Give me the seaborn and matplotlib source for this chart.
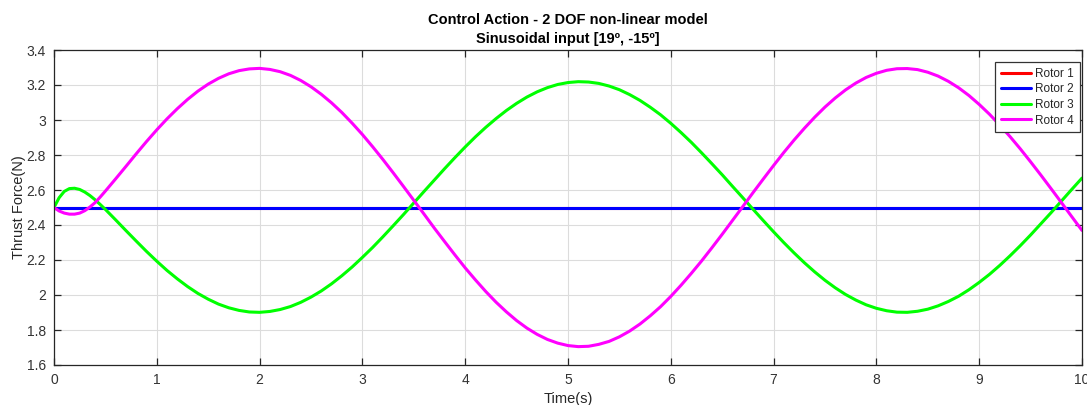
import numpy as np
import pandas as pd
import matplotlib
matplotlib.use("Agg")
import matplotlib.pyplot as plt
import seaborn as sns

time_s = [0, 0.05, 0.1, 0.15, 0.2, 0.25, 0.3, 0.35, 0.4, 0.45,
          0.5, 0.6, 0.7, 0.8, 0.9, 1, 1.1, 1.2, 1.3, 1.4, 1.5, 1.6, 1.7, 1.8, 1.9,
          2, 2.1, 2.2, 2.3, 2.4, 2.5, 2.6, 2.7, 2.8, 2.9, 3, 3.1, 3.2, 3.3, 3.4,
          3.5, 3.6, 3.7, 3.8, 3.9, 4, 4.1, 4.2, 4.3, 4.4, 4.5, 4.6, 4.7, 4.8, 4.9,
          5, 5.1, 5.2, 5.3, 5.4, 5.5, 5.6, 5.7, 5.8, 5.9, 6, 6.1, 6.2, 6.3, 6.4,
          6.5, 6.6, 6.7, 6.8, 6.9, 7, 7.1, 7.2, 7.3, 7.4, 7.5, 7.6, 7.7, 7.8, 7.9,
          8, 8.1, 8.2, 8.3, 8.4, 8.5, 8.6, 8.7, 8.8, 8.9, 9, 9.1, 9.2, 9.3, 9.4,
          9.5, 9.6, 9.7, 9.8, 9.9, 10]
rotor1 = [2.5] * len(time_s)
rotor2 = [2.5] * len(time_s)
rotor3 = [2.500, 2.556, 2.592, 2.608, 2.610, 2.603, 2.588, 2.568, 2.544, 2.517,
          2.489, 2.429, 2.368, 2.308, 2.249, 2.193, 2.140, 2.092, 2.048, 2.009,
          1.976, 1.948, 1.927, 1.912, 1.903, 1.901, 1.906, 1.917, 1.934, 1.958,
          1.988, 2.023, 2.064, 2.110, 2.160, 2.215, 2.272, 2.333, 2.396, 2.460,
          2.526, 2.592, 2.657, 2.722, 2.785, 2.846, 2.904, 2.958, 3.008, 3.054,
          3.095, 3.131, 3.161, 3.185, 3.203, 3.214, 3.219, 3.217, 3.209, 3.194,
          3.173, 3.145, 3.112, 3.073, 3.030, 2.981, 2.928, 2.872, 2.812, 2.750,
          2.687, 2.621, 2.556, 2.490, 2.425, 2.361, 2.299, 2.240, 2.184, 2.132,
          2.084, 2.041, 2.003, 1.971, 1.944, 1.924, 1.910, 1.902, 1.901, 1.907,
          1.919, 1.938, 1.963, 1.993, 2.030, 2.072, 2.118, 2.169, 2.224, 2.282,
          2.343, 2.407, 2.471, 2.537, 2.603, 2.668]
rotor4 = [2.500, 2.480, 2.468, 2.462, 2.462, 2.468, 2.482, 2.503, 2.528, 2.560,
          2.594, 2.664, 2.735, 2.807, 2.877, 2.944, 3.007, 3.065, 3.118, 3.165,
          3.205, 3.238, 3.264, 3.282, 3.292, 3.295, 3.289, 3.276, 3.255, 3.226,
          3.190, 3.147, 3.098, 3.043, 2.982, 2.917, 2.847, 2.774, 2.698, 2.620,
          2.541, 2.462, 2.382, 2.305, 2.229, 2.155, 2.086, 2.020, 1.959, 1.904,
          1.854, 1.811, 1.775, 1.746, 1.725, 1.711, 1.705, 1.707, 1.718, 1.735,
          1.761, 1.794, 1.834, 1.881, 1.933, 1.992, 2.056, 2.124, 2.195, 2.270,
          2.347, 2.426, 2.505, 2.585, 2.663, 2.740, 2.815, 2.886, 2.953, 3.016,
          3.074, 3.126, 3.172, 3.211, 3.243, 3.267, 3.284, 3.293, 3.294, 3.288,
          3.273, 3.251, 3.221, 3.184, 3.140, 3.089, 3.033, 2.971, 2.905, 2.835,
          2.761, 2.685, 2.607, 2.528, 2.448, 2.369]
series_names = ["Rotor 1", "Rotor 2", "Rotor 3", "Rotor 4"]
series_colors = ["#ff0000", "#0000ff", "#00ff00", "#ff00ff"]
x_ticks = [0, 1, 2, 3, 4, 5, 6, 7, 8, 9, 10]
y_ticks = [1.6, 1.8, 2.0, 2.2, 2.4, 2.6, 2.8, 3.0, 3.2, 3.4]
y_tick_labels = ["1.6", "1.8", "2", "2.2", "2.4", "2.6", "2.8", "3", "3.2", "3.4"]

sns.set_theme(style="white")
plt.rcParams["font.family"] = ["Liberation Sans", "DejaVu Sans"]

df = pd.DataFrame({"Time": time_s, "Rotor 1": rotor1, "Rotor 2": rotor2,
                   "Rotor 3": rotor3, "Rotor 4": rotor4})
long = df.melt(id_vars="Time", var_name="Rotor", value_name="Force")

fig = plt.figure(figsize=(10.87, 4.05), dpi=100)
ax = fig.add_axes([54/1087, 1 - 365/405, (1082 - 54)/1087, 315/405])

sns.lineplot(data=long, x="Time", y="Force", hue="Rotor", hue_order=series_names,
             palette=dict(zip(series_names, series_colors)), linewidth=2.2,
             ax=ax, legend=False, estimator=None, sort=False)

ax.set_xlim(0, 10)
ax.set_ylim(1.6, 3.4)
ax.set_xticks(x_ticks)
ax.set_xticklabels([str(v) for v in x_ticks])
ax.set_yticks(y_ticks)
ax.set_yticklabels(y_tick_labels)
ax.grid(True, color="#dcdcdc", linewidth=0.8)
ax.set_axisbelow(True)
for s in ax.spines.values():
    s.set_visible(True)
    s.set_color("#262626")
    s.set_linewidth(0.9)
ax.tick_params(direction="in", length=5, width=0.9, colors="#262626",
               labelsize=10, top=True, right=True, bottom=True, left=True,
               labelcolor="#333333", pad=6)

ax.set_xlabel("Time(s)", fontsize=10.5, color="#262626", labelpad=3)
ax.set_ylabel("Thrust Force(N)", fontsize=10.5, color="#262626", labelpad=0)
ax.set_title("Control Action - 2 DOF non-linear model\nSinusoidal input [19º, -15º]",
             fontsize=10.5, fontweight="bold", color="#000000", pad=5, linespacing=1.45)

handles = [plt.Line2D([], [], color=c, linewidth=2.2) for c in series_colors]
leg = ax.legend(handles, series_names, loc="upper right",
                bbox_to_anchor=((1080 - 54) / 1028, 1 - 12 / 315), fontsize=8.5,
                frameon=True, fancybox=False, framealpha=1, edgecolor="#333333",
                borderpad=0.5, labelspacing=0.3, handlelength=2.6,
                handletextpad=0.35, borderaxespad=0)
leg.get_frame().set_linewidth(0.9)

fig.savefig("out.png", dpi=100)
